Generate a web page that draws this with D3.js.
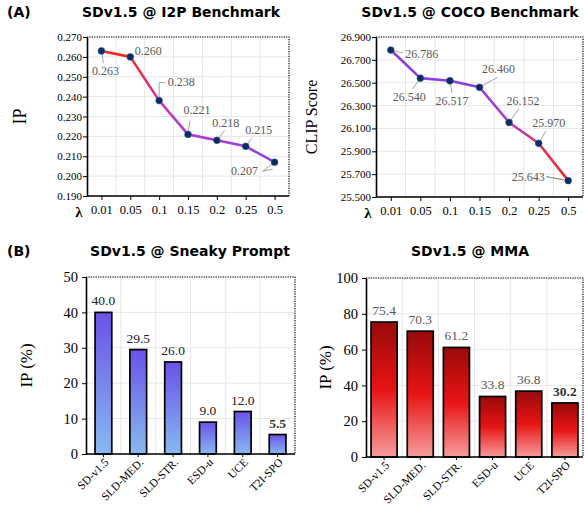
<!DOCTYPE html>
<html>
<head>
<meta charset="utf-8">
<script src="https://cdn.jsdelivr.net/npm/d3@7"></script>
<style>
  body { margin: 0; background: #fff; }
</style>
</head>
<body>
<div id="chart"></div>
<script>
// ---- data ----
const lambdas = ['0.01', '0.05', '0.1', '0.15', '0.2', '0.25', '0.5'];
const i2pValues = [0.263, 0.260, 0.238, 0.221, 0.218, 0.215, 0.207];
const cocoValues = [26.786, 26.540, 26.517, 26.460, 26.152, 25.970, 25.643];
const i2pTicks = [0.19, 0.20, 0.21, 0.22, 0.23, 0.24, 0.25, 0.26, 0.27];
const cocoTicks = [25.5, 25.7, 25.9, 26.1, 26.3, 26.5, 26.7, 26.9];

const methods = ['SD-v1.5', 'SLD-MED.', 'SLD-STR.', 'ESD-u', 'UCE', 'T2I-SPO'];
const sneakyValues = [40.0, 29.5, 26.0, 9.0, 12.0, 5.5];
const mmaValues = [75.4, 70.3, 61.2, 33.8, 36.8, 30.2];
const sneakyTicks = [0, 10, 20, 30, 40, 50];
const mmaTicks = [0, 20, 40, 60, 80, 100];

// label offsets (label centre relative to point) and leader end points
const i2pLabelPos = [[4, 20], [18, -6], [22, -19], [9, -24], [9, -17], [13, -16], [-30, 9]];
const i2pLeader = [[2, 12], [0, 0], [[0, -18], [6, -18]], [2, -14], [8, -10], [6, -8], [[-12, 9], [-2, 7]]];
const cocoLabelPos = [[31, 4], [-11, 19], [2, 20], [19, -18], [14, -21], [10, -20], [-40, -4]];
const cocoLeader = [[12, 3], [-8, 11], [2, 12], [18, -10], [10, -14], [7, -12], [[-22, -4], [-4, -1]]];

const W = 585, H = 505;
const svg = d3.select('#chart').append('svg').attr('width', W).attr('height', H);
const defs = svg.append('defs');

const serif = '"Liberation Serif", "Times New Roman", serif';
const sans = '"DejaVu Sans", "Liberation Sans", Arial, sans-serif';

function frame(g, x0, y0, w, h) {
  // dotted top and right border
  g.append('path')
    .attr('d', `M${x0},${y0}H${x0 + w}V${y0 + h}`)
    .attr('fill', 'none').attr('stroke', '#000').attr('stroke-width', 1.2)
    .attr('stroke-dasharray', '1.2,1.2');
}

function title(x, y, text) {
  svg.append('text').attr('x', x).attr('y', y).attr('text-anchor', 'middle')
    .style('font-family', sans).style('font-weight', 700).style('font-size', '14px')
    .text(text);
}

function yTitle(x, y, text, size) {
  svg.append('text').attr('transform', `translate(${x},${y}) rotate(-90)`)
    .attr('text-anchor', 'middle').style('font-family', serif).style('font-size', size + 'px')
    .text(text);
}

function grad(id, stops, attrs) {
  const gr = defs.append('linearGradient').attr('id', id);
  Object.entries(attrs).forEach(([k, v]) => gr.attr(k, v));
  stops.forEach(s => gr.append('stop').attr('offset', s[0]).attr('stop-color', s[1]));
}

// ---- line chart ----
function lineChart({x0, y0, w, h, values, domain, ticks, fmt, yLabel, yLabelX, yLabelSize, gradId, gradStops, labelPos, leader}) {
  const g = svg.append('g');
  const x = d3.scalePoint().domain(lambdas).range([x0, x0 + w]).padding(0.5);
  const y = d3.scaleLinear().domain(domain).range([y0 + h, y0]);
  const step = x.step();

  // grid
  g.selectAll('.hg').data(ticks).join('line')
    .attr('x1', x0).attr('x2', x0 + w).attr('y1', d => y(d)).attr('y2', d => y(d))
    .attr('stroke', '#e6e6e6').attr('stroke-width', 1);
  g.selectAll('.vg').data(lambdas.slice(1)).join('line')
    .attr('x1', d => x(d) - step / 2).attr('x2', d => x(d) - step / 2)
    .attr('y1', y0).attr('y2', y0 + h)
    .attr('stroke', '#e6e6e6').attr('stroke-width', 1);

  frame(g, x0, y0, w, h);

  const ya = g.append('g').attr('transform', `translate(${x0},0)`)
    .call(d3.axisLeft(y).tickValues(ticks).tickFormat(fmt).tickSize(4).tickSizeOuter(0));
  ya.select('.domain').attr('stroke-width', 1.6);
  ya.selectAll('.tick text').style('font-family', serif).style('font-size', '11px').attr('x', -5);

  const xa = g.append('g').attr('transform', `translate(0,${y0 + h})`)
    .call(d3.axisBottom(x).tickSize(4).tickSizeOuter(0));
  xa.select('.domain').attr('d', `M${x0},0H${x0 + w}`).attr('stroke-width', 1.6);
  xa.selectAll('.tick text').style('font-family', serif).style('font-size', '12.5px').attr('y', 9);

  svg.append('text').attr('x', x0 - 8).attr('y', y0 + h + 21).attr('text-anchor', 'middle')
    .style('font-family', serif).style('font-weight', 700).style('font-size', '15px').text('λ');

  yTitle(yLabelX, y0 + h / 2, yLabel, yLabelSize);

  const ys = values.map(v => y(v));
  grad(gradId, gradStops, {gradientUnits: 'userSpaceOnUse', x1: 0, x2: 0, y1: d3.min(ys), y2: d3.max(ys)});

  const line = d3.line().x((d, i) => x(lambdas[i])).y(d => y(d));
  g.append('path').datum(values).attr('d', line).attr('fill', 'none')
    .attr('stroke', `url(#${gradId})`).attr('stroke-width', 2.6).attr('stroke-linejoin', 'round');

  // leaders
  values.forEach((v, i) => {
    const px = x(lambdas[i]), py = y(v);
    const l = leader[i];
    let pts;
    if (Array.isArray(l[0])) pts = [[px, py]].concat(l.map(p => [px + p[0], py + p[1]]));
    else pts = [[px, py], [px + l[0], py + l[1]]];
    if (l[0] === 0 && l[1] === 0) return;
    g.append('path').attr('d', d3.line()(pts)).attr('fill', 'none')
      .attr('stroke', '#8c8c8c').attr('stroke-width', 0.8);
  });

  g.selectAll('circle').data(values).join('circle')
    .attr('cx', (d, i) => x(lambdas[i])).attr('cy', d => y(d)).attr('r', 3.4)
    .attr('fill', '#0c2a63').attr('stroke', '#3a5a8c').attr('stroke-width', 0.6);

  g.selectAll('.lbl').data(values).join('text')
    .attr('x', (d, i) => x(lambdas[i]) + labelPos[i][0])
    .attr('y', (d, i) => y(d) + labelPos[i][1] + 4)
    .attr('text-anchor', 'middle')
    .style('font-family', serif).style('font-size', '12px').attr('fill', '#595959')
    .text(d => fmt(d));
}

// ---- bar chart ----
function barChart({x0, y0, w, h, values, ticks, yLabelX, gradId, gradStops, padding, labelColor, boldLast}) {
  const g = svg.append('g');
  const x = d3.scaleBand().domain(methods).range([x0, x0 + w]).paddingInner(padding).paddingOuter(padding / 2);
  const y = d3.scaleLinear().domain([ticks[0], ticks[ticks.length - 1]]).range([y0 + h, y0]);
  const step = x.step();

  g.selectAll('.hg').data(ticks).join('line')
    .attr('x1', x0).attr('x2', x0 + w).attr('y1', d => y(d)).attr('y2', d => y(d))
    .attr('stroke', '#e6e6e6');
  g.selectAll('.vg').data(methods.slice(1)).join('line')
    .attr('x1', d => x(d) + x.bandwidth() / 2 - step / 2).attr('x2', d => x(d) + x.bandwidth() / 2 - step / 2)
    .attr('y1', y0).attr('y2', y0 + h).attr('stroke', '#e6e6e6');

  frame(g, x0, y0, w, h);

  grad(gradId, gradStops, {x1: 0, x2: 0, y1: 0, y2: 1});

  g.selectAll('rect').data(values).join('rect')
    .attr('x', (d, i) => x(methods[i])).attr('width', x.bandwidth())
    .attr('y', d => y(d)).attr('height', d => y(0) - y(d))
    .attr('fill', `url(#${gradId})`).attr('stroke', '#000').attr('stroke-width', 1.7);

  const ya = g.append('g').attr('transform', `translate(${x0},0)`)
    .call(d3.axisLeft(y).tickValues(ticks).tickSize(4).tickSizeOuter(0));
  ya.select('.domain').attr('stroke-width', 1.6);
  ya.selectAll('.tick text').style('font-family', serif).style('font-size', '14.5px').attr('x', -8);

  const xa = g.append('g').attr('transform', `translate(0,${y0 + h})`)
    .call(d3.axisBottom(x).tickSize(3).tickSizeOuter(0));
  xa.select('.domain').attr('d', `M${x0},0H${x0 + w}`).attr('stroke-width', 1.6);
  xa.selectAll('.tick text').style('font-family', serif).style('font-size', '11.5px')
    .attr('text-anchor', 'end').attr('dy', 0).attr('y', 0)
    .attr('transform', 'translate(6,9) rotate(-45)');

  g.selectAll('.vl').data(values).join('text')
    .attr('x', (d, i) => x(methods[i]) + x.bandwidth() / 2).attr('y', d => y(d) - 7)
    .attr('text-anchor', 'middle').style('font-family', serif).style('font-size', '13.5px')
    .attr('fill', (d, i) => boldLast && i === values.length - 1 ? '#333' : labelColor)
    .style('font-weight', (d, i) => boldLast && i === values.length - 1 ? 700 : 400)
    .text(d => d.toFixed(1));

  yTitle(yLabelX, y0 + h / 2, 'IP (%)', 17);
}

// panel letters
svg.append('text').attr('x', 7).attr('y', 17).style('font-family', sans).style('font-weight', 700)
  .style('font-size', '14px').text('(A)');
svg.append('text').attr('x', 7).attr('y', 256).style('font-family', sans).style('font-weight', 700)
  .style('font-size', '14px').text('(B)');

title(181, 17, 'SDv1.5 @ I2P Benchmark');
title(470, 17, 'SDv1.5 @ COCO Benchmark');
title(190, 256, 'SDv1.5 @ Sneaky Prompt');
title(470, 256, 'SDv1.5 @ MMA');

lineChart({
  x0: 87, y0: 37, w: 202, h: 159, values: i2pValues, domain: [0.19, 0.27], ticks: i2pTicks,
  fmt: d3.format('.3f'), yLabel: 'IP', yLabelX: 26, yLabelSize: 18, gradId: 'gA1',
  gradStops: [[0, '#f3281c'], [0.12, '#f02a2c'], [0.55, '#c43ac4'], [1, '#8c3ee4']],
  labelPos: i2pLabelPos, leader: i2pLeader
});

lineChart({
  x0: 376, y0: 37, w: 207, h: 160, values: cocoValues, domain: [25.5, 26.9], ticks: cocoTicks,
  fmt: d3.format('.3f'), yLabel: 'CLIP Score', yLabelX: 317, yLabelSize: 16, gradId: 'gA2',
  gradStops: [[0, '#8a3ee6'], [0.3, '#8e3de2'], [0.55, '#b93bc4'], [0.75, '#e0306a'], [1, '#f22a1e']],
  labelPos: cocoLabelPos, leader: cocoLeader
});

barChart({
  x0: 86, y0: 277, w: 209, h: 177, values: sneakyValues, ticks: sneakyTicks, yLabelX: 32,
  gradId: 'gB1', gradStops: [[0, '#6a52e8'], [1, '#86baf0']], padding: 0.52,
  labelColor: '#222', boldLast: true
});

barChart({
  x0: 366, y0: 278, w: 217, h: 179, values: mmaValues, ticks: mmaTicks, yLabelX: 331,
  gradId: 'gB2', gradStops: [[0, '#980a0a'], [0.5, '#e81414'], [1, '#f69c9c']], padding: 0.28,
  labelColor: '#595959', boldLast: true
});
</script>
</body>
</html>
